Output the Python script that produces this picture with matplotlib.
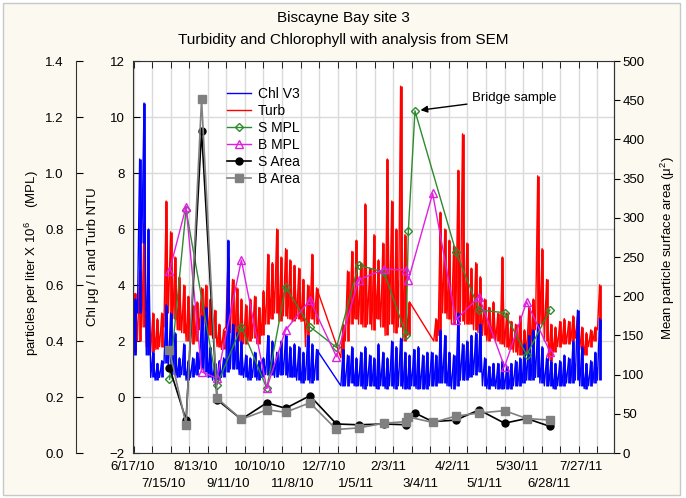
import numpy as np
import pandas as pd
import matplotlib
matplotlib.use('Agg')
import matplotlib.pyplot as plt
from matplotlib.patches import Rectangle
from matplotlib.transforms import blended_transform_factory

plt.rcParams['font.family'] = ['Liberation Sans', 'DejaVu Sans']
plt.rcParams['mathtext.default'] = 'regular'

start = pd.Timestamp('2010-06-17')

date_labels = ['6/17/10', '7/15/10', '8/13/10', '9/11/10', '10/10/10', '11/8/10',
               '12/7/10', '1/5/11', '2/3/11', '3/4/11', '4/2/11', '5/1/11',
               '5/30/11', '6/28/11', '7/27/11']

# logger records, read as low / high envelope in 4-day bins from 6/17/10 (nan = no data)
bin_days = 4
nan = np.nan
chl_lo = [1.5, 3.0, 5.5, 1.5, 0.7, 0.6, 0.7, 1.2, 1.0, 0.8,
          0.7, 0.8, 0.6, 0.7, 0.8, 1.0, 0.9, 0.7, 0.6, 0.6,
          0.7, 0.9, 1.0, 1.0, 0.8, 0.7, 0.6, 0.7, 0.6, 0.7,
          0.8, 0.8, 0.7, 0.8, 0.8, 0.7, 0.7, 0.6, 0.5, 0.6,
          0.5, 0.6, nan, nan, nan, nan, nan, 0.4, 0.4, 0.5,
          0.4, 0.4, 0.3, 0.4, 0.4, 0.3, 0.4, 0.3, 0.4, 0.3,
          0.4, 0.3, 0.3, 0.4, 0.3, 0.3, 0.3, 0.4, 0.4, 0.5,
          0.5, 0.4, 0.3, 0.4, 0.6, 0.6, 0.7, 0.8, 0.9, 0.4,
          0.3, 0.4, 0.3, 0.3, 0.3, 0.3, 0.4, 0.4, 0.5, 0.6,
          0.6, 0.7, 0.5, 0.4, 0.4, 0.3, 0.4, 0.4, 0.5, 0.5,
          0.6, 0.4, 0.3, 0.4, 0.5, 0.6]
chl_hi = [3.5, 8.5, 10.5, 6.0, 1.6, 1.2, 1.3, 3.3, 3.0, 2.3,
          1.4, 1.9, 1.3, 1.4, 1.6, 2.9, 3.2, 1.8, 1.2, 1.3,
          1.4, 5.6, 2.6, 2.3, 2.0, 1.5, 1.4, 1.6, 1.3, 1.4,
          2.2, 2.0, 1.6, 2.0, 2.2, 1.8, 1.9, 1.8, 1.6, 2.2,
          1.9, 1.7, nan, nan, nan, nan, nan, 1.7, 1.5, 1.8,
          1.4, 1.6, 1.8, 1.5, 1.4, 1.9, 1.6, 1.4, 2.0, 1.8,
          2.1, 1.6, 1.5, 1.7, 1.8, 1.5, 1.6, 1.6, 1.5, 2.4,
          2.2, 1.6, 1.5, 3.0, 1.9, 2.0, 2.2, 2.3, 2.6, 1.4,
          1.1, 1.2, 1.2, 1.3, 1.1, 1.2, 1.3, 1.4, 1.9, 2.2,
          2.4, 2.6, 1.8, 1.4, 1.3, 1.2, 1.3, 1.5, 1.4, 2.0,
          3.1, 1.8, 1.2, 1.3, 1.6, 2.8]
turb_lo = [1.6, 2.0, 2.5, 1.8, 1.6, 1.7, 1.8, 2.5, 3.0, 2.8,
           2.4, 2.3, 2.0, 1.9, 2.0, 2.4, 2.6, 2.2, 2.1, 1.8,
           1.7, 2.5, 2.3, 2.1, 2.0, 1.9, 2.0, 2.1, 1.9, 2.2,
           2.6, 2.8, 3.0, 2.7, 2.9, 2.8, 2.7, 2.8, 2.7, 1.8,
           2.8, 2.6, nan, nan, nan, nan, nan, 1.4, 2.0, 2.6,
           2.8, 2.6, 2.5, 2.6, 2.4, 2.8, 2.5, 2.2, 2.6, 2.3,
           2.5, 2.0, 2.2, nan, nan, nan, nan, nan, 2.0, 2.2,
           3.0, 2.8, 2.6, 2.9, 2.7, 2.6, 2.6, 2.4, 2.3, 2.2,
           2.0, 2.1, 2.0, 1.9, 1.8, 1.7, 1.6, 1.5, 1.5, 1.6,
           1.9, 2.4, 2.6, 2.0, 1.3, 1.6, 1.8, 1.9, 1.9, 2.0,
           2.1, 1.7, 1.5, 1.8, 2.0, 2.4]
turb_hi = [3.7, 4.5, 6.2, 4.0, 3.0, 2.8, 3.0, 7.0, 5.9, 5.0,
           4.3, 4.0, 3.6, 3.3, 3.4, 3.9, 4.0, 3.5, 3.1, 2.6,
           2.4, 5.0, 4.2, 3.9, 3.5, 3.3, 3.5, 3.6, 3.2, 3.8,
           5.1, 4.8, 6.0, 5.0, 5.3, 4.9, 4.7, 4.6, 4.2, 4.0,
           5.1, 3.9, nan, nan, nan, nan, nan, 2.6, 4.5, 5.2,
           5.6, 4.8, 6.9, 4.6, 5.8, 4.9, 5.5, 8.5, 7.0, 6.0,
           11.1, 5.8, 3.4, nan, nan, nan, nan, nan, 2.8, 6.6,
           6.0, 5.6, 5.4, 8.1, 9.4, 5.5, 4.6, 4.8, 4.3, 3.5,
           3.2, 3.4, 3.0, 5.0, 3.0, 2.7, 2.6, 2.9, 2.4, 3.2,
           3.5, 7.9, 5.3, 4.2, 2.6, 2.5, 2.7, 2.8, 2.7, 2.9,
           2.9, 2.5, 2.3, 2.4, 2.5, 4.0]

# SEM samples (nan = not sampled)
sample_dates = ['2010-07-20', '2010-08-04', '2010-08-18', '2010-09-01', '2010-09-23',
                '2010-10-16', '2010-11-02', '2010-11-24', '2010-12-18', '2011-01-07',
                '2011-01-30', '2011-02-19', '2011-02-21', '2011-02-27', '2011-03-15',
                '2011-04-05', '2011-04-26', '2011-05-19', '2011-06-08', '2011-06-29']
s_mpl = [0.263, 0.868, nan, 0.243, 0.451, 0.231, 0.594, 0.451, 0.377, 0.671,
         0.646, 0.421, 0.794, 1.222, nan, 0.719, 0.511, 0.501, 0.35, 0.511]
b_mpl = [0.651, 0.88, 0.29, 0.267, 0.689, 0.231, 0.439, 0.546, 0.344, 0.618,
         0.656, 0.654, 0.618, nan, 0.927, 0.475, 0.558, 0.308, 0.54, 0.362]
s_area = [109, 42, 411, 68, 43, 64, 57, 73, 37, 36,
          37, 36, nan, 51, 40, 42, 55, 38, 44, 34]
b_area = [131, 36, 451, 70, 43, 55, 52, 64, 30, 32,
          38, 40, 46, nan, 39, 47, 51, 54, 44, 42]


def draw_record(axis, lo, hi, color, label):
    # dense logger trace: a bar for each bin's range plus the zigzag between low and high
    d = np.arange(len(lo)) * bin_days
    lo = np.array(lo, dtype=float)
    hi = np.array(hi, dtype=float)
    ok = ~np.isnan(lo)
    axis.vlines(d[ok] + bin_days / 2, lo[ok], hi[ok], color=color, lw=2.0)
    x = np.column_stack([d[ok], d[ok] + bin_days / 2]).ravel()
    y = np.column_stack([lo[ok], hi[ok]]).ravel()
    line, = axis.plot(x, y, color=color, lw=1, label=label)
    return line


def samples(vals):
    d = (pd.to_datetime(sample_dates) - start).days.values.astype(float)
    v = np.array(vals, dtype=float)
    ok = ~np.isnan(v)
    return d[ok], v[ok]


fig = plt.figure(figsize=(6.86, 4.98), dpi=100)
fig.patch.set_facecolor('white')
fig.patches.append(Rectangle((3 / 686, 3 / 498), 677 / 686, 492 / 498, transform=fig.transFigure,
                             facecolor='#FBF9F0', edgecolor='#C8C8C8', lw=1, zorder=-5))

ax = fig.add_axes([133 / 686, 45 / 498, 481 / 686, 392 / 498])
ax.set_facecolor('white')

# grid
tick_days = (pd.to_datetime(date_labels, format='%m/%d/%y') - start).days.values
ax.set_xlim(0, 435)
ax.set_ylim(-2, 12)
ax.set_yticks(np.arange(-2, 13, 2))
ax.set_xticks([])
ax.set_xticks(np.arange(0.6, 435, 16.77), minor=True)
ax.grid(True, which='minor', axis='x', color='#DADADA', lw=1)
ax.grid(True, which='major', axis='y', color='#DADADA', lw=1)
ax.set_axisbelow(True)
ax.tick_params(axis='x', which='minor', direction='in', length=5, top=True, bottom=True)
ax.tick_params(axis='y', direction='in', length=5, pad=6, labelsize=9.5, right=False)
for s in ax.spines.values():
    s.set_color('#333333')

# date labels on two alternating rows
trans = blended_transform_factory(ax.transData, fig.transFigure)
for i, (d, t) in enumerate(zip(tick_days, date_labels)):
    row_y = 467 if i % 2 == 0 else 484
    ax.text(d, 1 - row_y / 498, t, transform=trans, ha='center', va='center', fontsize=9.5)

l_turb = draw_record(ax, turb_lo, turb_hi, '#FF0000', 'Turb')
l_chl = draw_record(ax, chl_lo, chl_hi, '#0000FF', 'Chl V3')

# particle counts, outer left axis
ax_mpl = ax.twinx()
ax_mpl.set_ylim(0, 1.4)
ax_mpl.set_yticks(np.arange(0, 1.41, 0.2))
ax_mpl.yaxis.set_major_formatter(matplotlib.ticker.FormatStrFormatter('%.1f'))
ax_mpl.yaxis.set_ticks_position('left')
ax_mpl.spines['left'].set_position(('outward', 41))
ax_mpl.spines['left'].set_visible(True)
for k in ['right', 'top', 'bottom']:
    ax_mpl.spines[k].set_visible(False)
ax_mpl.spines['left'].set_color('#333333')
ax_mpl.tick_params(axis='y', direction='in', length=5, pad=9, labelsize=9.5)

x, y = samples(s_mpl)
l_smpl, = ax_mpl.plot(x, y, color='#2E8B2E', lw=1, marker='D', ms=4.5, mfc='none', mew=1, label='S MPL')
x, y = samples(b_mpl)
l_bmpl, = ax_mpl.plot(x, y, color='#E020E0', lw=1, marker='^', ms=6, mfc='none', mew=1, label='B MPL')

ax_mpl.annotate('Bridge sample', xy=(255, 1.222), xytext=(307, 1.268), fontsize=9.5,
                va='center', ha='left',
                arrowprops=dict(arrowstyle='-|>', color='black', lw=1, shrinkA=2, shrinkB=4,
                                mutation_scale=10))

# particle area, right axis
ax_area = ax.twinx()
ax_area.set_ylim(0, 500)
ax_area.set_yticks(np.arange(0, 501, 50))
ax_area.tick_params(axis='y', direction='out', length=4, pad=2, labelsize=9.5)
ax_area.spines['right'].set_color('#333333')
for k in ['left', 'top', 'bottom']:
    ax_area.spines[k].set_visible(False)

x, y = samples(s_area)
l_sarea, = ax_area.plot(x, y, color='black', lw=1.2, marker='o', ms=5, label='S Area')
x, y = samples(b_area)
l_barea, = ax_area.plot(x, y, color='#808080', lw=1.2, marker='s', ms=5.5, label='B Area')

ax_area.legend(handles=[l_chl, l_turb, l_smpl, l_bmpl, l_sarea, l_barea],
               loc='upper left', bbox_to_anchor=(220 / 686, 1 - 80 / 498),
               bbox_transform=fig.transFigure, frameon=False, fontsize=10,
               handlelength=1.7, handletextpad=0.5, labelspacing=0.22, borderpad=0)

fig.text(0.5, 1 - 18 / 498, 'Biscayne Bay site 3', ha='center', va='center', fontsize=11)
fig.text(0.5, 1 - 40 / 498, 'Turbidity and Chlorophyll with analysis from SEM',
         ha='center', va='center', fontsize=11)
fig.text(32 / 686, 1 - 263 / 498, 'particles per liter X 10$^{6}$    (MPL)',
         rotation=90, ha='center', va='center', fontsize=9.5)
fig.text(93 / 686, 1 - 257 / 498, 'Chl \u03bcg / l and Turb NTU',
         rotation=90, ha='center', va='center', fontsize=9.5)
fig.text(668 / 686, 1 - 248 / 498, 'Mean particle surface area (\u03bc$^{2}$)',
         rotation=90, ha='center', va='center', fontsize=9.5)

fig.savefig('out.png', dpi=100)
